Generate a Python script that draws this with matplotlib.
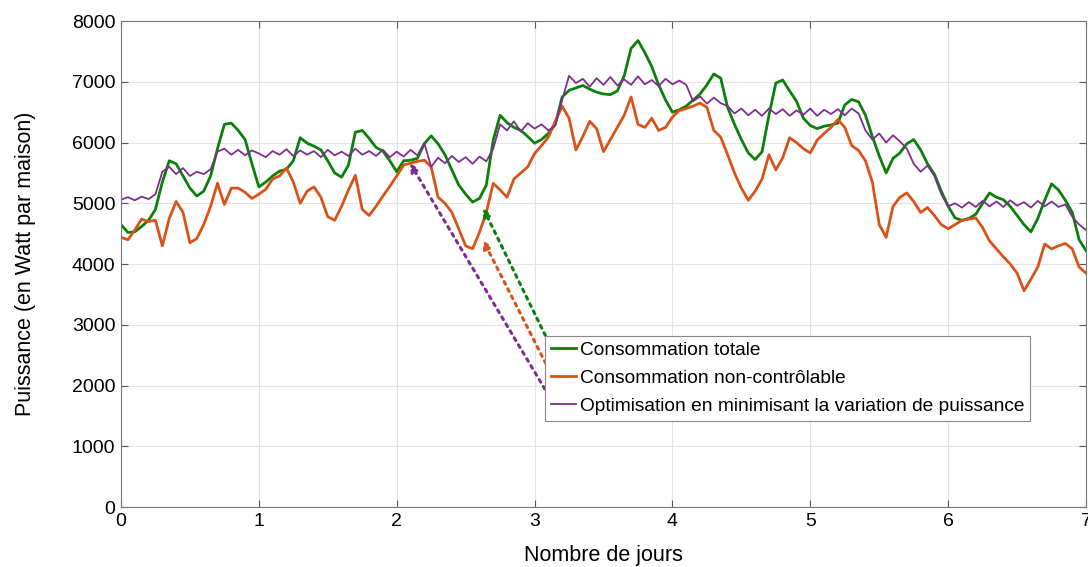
import numpy as np
import matplotlib.pyplot as plt

plt.rcParams['font.family'] = ['Liberation Sans', 'DejaVu Sans']

jours = np.linspace(0, 7, 141)

totale = [
    4650, 4520, 4530, 4620, 4720, 4900, 5350, 5700, 5650, 5450, 5250, 5120, 5200, 5450, 5900, 6300, 6320, 6200, 6050, 5650,
    5270, 5350, 5450, 5530, 5560, 5700, 6080, 5990, 5940, 5880, 5700, 5500, 5430, 5630, 6170, 6200, 6070, 5920, 5860, 5700,
    5520, 5700, 5710, 5740, 5980, 6110, 5980, 5800, 5550, 5300, 5150, 5020, 5080, 5300, 6040, 6450, 6330, 6250, 6200, 6100,
    5990, 6050, 6150, 6300, 6750, 6860, 6900, 6940, 6880, 6830, 6800, 6790, 6850, 7100, 7550, 7680, 7480, 7250, 6950, 6700,
    6500, 6540, 6600, 6700, 6800, 6950, 7130, 7060, 6580, 6300, 6050, 5830, 5720, 5850, 6450, 6980, 7030, 6850, 6680, 6400,
    6280, 6230, 6270, 6290, 6320, 6620, 6710, 6670, 6450, 6100, 5780, 5500, 5740, 5830, 5980, 6050, 5880, 5650, 5480, 5200,
    4950, 4760, 4720, 4750, 4820, 5000, 5170, 5100, 5060, 4950, 4800, 4650, 4530, 4750, 5050, 5320, 5220, 5050, 4850, 4400,
    4220]

non_controlable = [
    4440, 4400, 4560, 4740, 4700, 4720, 4300, 4750, 5030, 4850, 4350, 4420, 4650, 4950, 5330, 4980, 5250, 5250, 5180, 5080,
    5150, 5230, 5400, 5450, 5580, 5350, 5000, 5200, 5270, 5100, 4780, 4720, 4950, 5220, 5460, 4900, 4800, 4950, 5120, 5280,
    5450, 5630, 5660, 5690, 5710, 5600, 5100, 5000, 4850, 4580, 4300, 4250, 4520, 4850, 5330, 5220, 5100, 5400, 5500, 5600,
    5820, 5950, 6090, 6350, 6600, 6400, 5880, 6100, 6350, 6230, 5850, 6050, 6250, 6450, 6750, 6300, 6250, 6400, 6200, 6250,
    6420, 6530, 6560, 6600, 6650, 6580, 6200, 6090, 5800, 5500, 5250, 5050, 5200, 5400, 5800, 5550, 5750, 6080, 6000, 5900,
    5830, 6040, 6150, 6250, 6380, 6250, 5950, 5870, 5700, 5350, 4650, 4440, 4950, 5100, 5170, 5030, 4850, 4930, 4800, 4650,
    4580, 4650, 4720, 4740, 4760, 4600, 4380, 4250, 4120, 4000, 3850, 3560, 3750, 3950, 4330, 4250, 4300, 4340, 4250, 3950,
    3850]

optimisation = [
    5060, 5100, 5050, 5110, 5070, 5150, 5520, 5600, 5480, 5580, 5450, 5520, 5480, 5560, 5850, 5900, 5800, 5880, 5790, 5870,
    5820, 5760, 5860, 5800, 5890, 5780, 5870, 5800, 5860, 5760, 5880, 5790, 5850, 5780, 5900, 5800, 5860, 5780, 5880, 5760,
    5850, 5770, 5880, 5790, 5990, 5600, 5750, 5660, 5780, 5680, 5760, 5650, 5770, 5690, 5900, 6300, 6200, 6350, 6180, 6320,
    6230, 6300, 6200, 6280, 6700, 7100, 6980, 7050, 6920, 7060, 6950, 7080, 6940, 7040, 6950, 7090, 6960, 7030, 6930, 7050,
    6960, 7020, 6950, 6680, 6760, 6640, 6740, 6650, 6600, 6480, 6560, 6450, 6540, 6440, 6560, 6470, 6550, 6440, 6530, 6460,
    6560, 6440, 6540, 6470, 6550, 6450, 6560, 6480, 6200, 6050, 6150, 6000, 6120, 6020, 5900, 5650, 5520, 5620, 5450, 5150,
    4950, 5000, 4930, 5020, 4940, 5040, 4950, 5030, 4940, 5050, 4960, 5020, 4930, 5040, 4950, 5030, 4940, 4980, 4780, 4650,
    4560]

labels = ['Consommation totale', 'Consommation non-contrôlable',
          'Optimisation en minimisant la variation de puissance']
colors = ['#0a800a', '#d95319', '#7e2f8e']

fig = plt.figure(figsize=(10.88, 5.67), dpi=100)
ax = fig.add_axes([0.1112, 0.1058, 0.887, 0.857])

ax.plot(jours, totale, color=colors[0], lw=2.0, label=labels[0])
ax.plot(jours, non_controlable, color=colors[1], lw=2.0, label=labels[1])
ax.plot(jours, optimisation, color=colors[2], lw=1.3, label=labels[2])

ax.set_xlim(0, 7)
ax.set_ylim(0, 8000)
ax.set_xticks(range(0, 8))
ax.set_yticks(range(0, 8001, 1000))
ax.grid(True, color='#e3e3e3', lw=0.8)
ax.set_axisbelow(True)
ax.tick_params(direction='in', top=True, right=True, labelsize=14, length=5,
               color='#555555', pad=4)
for s in ax.spines.values():
    s.set_color('#777777')
    s.set_linewidth(0.8)

ax.set_xlabel('Nombre de jours', fontsize=15.5, labelpad=11)
ax.set_ylabel('Puissance (en Watt par maison)', fontsize=15.5, labelpad=26)

leg = ax.legend(loc='upper left', bbox_to_anchor=(0.4394, 0.352), fontsize=13.8,
                handlelength=1.3, handletextpad=0.2, borderpad=0.3,
                labelspacing=0.55, borderaxespad=0, fancybox=False, framealpha=1)
leg.get_frame().set_edgecolor('#888888')
leg.get_frame().set_linewidth(0.8)

# dotted arrows from the legend to the curves
starts = [(3.13, 2584), (3.135, 2123), (3.135, 1712)]
ends = [(2.626, 4922), (2.626, 4395), (2.096, 5663)]
for (xs, ys), (xe, ye), c in zip(starts, ends, colors):
    ax.annotate('', xy=(xe, ye), xytext=(xs, ys),
                arrowprops=dict(arrowstyle='-|>', linestyle=':', lw=2.2, color=c,
                                mutation_scale=12, shrinkA=0, shrinkB=0))

fig.savefig('out.png', dpi=100)
